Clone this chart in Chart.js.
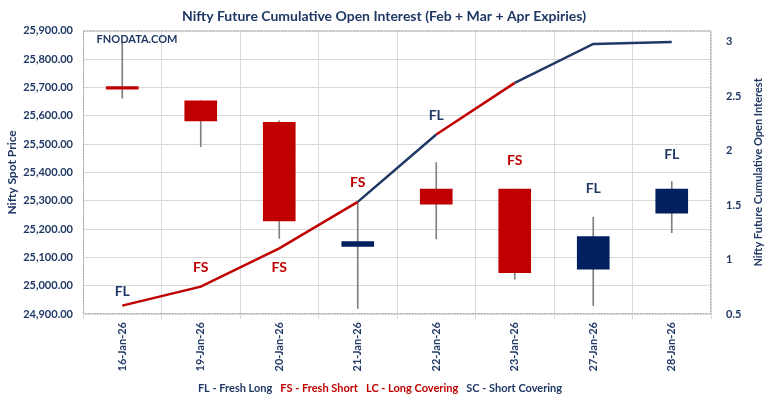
<!DOCTYPE html>
<html>
<head>
<meta charset="utf-8">
<script src="https://cdn.jsdelivr.net/npm/chart.js@4"></script>
<style>
  html, body { margin: 0; padding: 0; background: #fff; }
  #wrap { width: 768px; height: 401px; position: relative; }
</style>
</head>
<body>
<div id="wrap"><canvas id="chart"></canvas></div>
<script>
// Data
const categories = ['16-Jan-26', '19-Jan-26', '20-Jan-26', '21-Jan-26', '22-Jan-26', '23-Jan-26', '27-Jan-26', '28-Jan-26'];
const openPrices  = [25694, 25653, 25577, 25139, 25341, 25341, 25058, 25256];
const closePrices = [25694, 25582, 25229, 25156, 25288, 25046, 25173, 25341];
const highPrices  = [25859, 25653, 25582, 25291, 25435, 25341, 25242, 25368];
const lowPrices   = [25662, 25491, 25167, 24920, 25165, 25023, 24929, 25187];
const openInterest = [0.577, 0.751, 1.102, 1.529, 2.148, 2.622, 2.979, 2.997];
const positions   = ['FL', 'FS', 'FS', 'FS', 'FL', 'FS', 'FL', 'FL'];
const labelPrices = [24978, 25063, 25066, 25366, 25601, 25441, 25342, 25462];
const oiTicks     = [0.5, 1, 1.5, 2, 2.5, 3];
const legendItems = ['FL - Fresh Long', 'FS - Fresh Short', 'LC - Long Covering', 'SC - Short Covering'];
const legendKinds = ['FL', 'FS', 'LC', 'SC'];

const NAVY = '#1F3864';
const BLUE = '#002060';
const RED = '#C00000';
const FONT = 'Lato, "Open Sans", sans-serif';

const kindColor = (k) => (k === 'FL' || k === 'SC') ? NAVY : RED;

// Extra drawing: plot border, watermark, position labels, right title, bottom key
const decorations = {
  id: 'decorations',
  beforeDatasetsDraw(chart) {
    const { ctx, chartArea: a } = chart;
    ctx.save();
    ctx.strokeStyle = '#A6A6A6';
    ctx.lineWidth = 1;
    ctx.setLineDash([2, 1]);
    ctx.strokeRect(a.left + 0.5, a.top + 0.5, a.right - a.left - 1, a.bottom - a.top - 1);
    ctx.restore();
  },
  afterDatasetsDraw(chart) {
    const { ctx, chartArea: a, scales } = chart;
    ctx.save();
    ctx.textAlign = 'center';
    ctx.textBaseline = 'middle';

    ctx.font = `bold 11px ${FONT}`;
    ctx.fillStyle = NAVY;
    ctx.fillText('FNODATA.COM', a.left + 54, a.top + 9);

    ctx.font = `bold 14px ${FONT}`;
    positions.forEach((p, i) => {
      ctx.fillStyle = kindColor(p);
      ctx.fillText(p, scales.x.getPixelForValue(i), scales.y.getPixelForValue(labelPrices[i]));
    });

    // right axis title, reading bottom to top
    ctx.font = `bold 11px ${FONT}`;
    ctx.fillStyle = NAVY;
    ctx.translate(758, (a.top + a.bottom) / 2);
    ctx.rotate(-Math.PI / 2);
    ctx.fillText('Nifty Future Cumulative Open Interest', 0, 0);
    ctx.restore();

    // bottom key
    ctx.save();
    ctx.font = `bold 11px ${FONT}`;
    ctx.textBaseline = 'middle';
    ctx.textAlign = 'left';
    const gap = 8;
    const widths = legendItems.map(t => ctx.measureText(t).width);
    const total = widths.reduce((s, w) => s + w, 0) + gap * (legendItems.length - 1);
    let x = 380 - total / 2;
    legendItems.forEach((t, i) => {
      ctx.fillStyle = kindColor(legendKinds[i]);
      ctx.fillText(t, x, 388);
      x += widths[i] + gap;
    });
    ctx.restore();
  }
};

new Chart(document.getElementById('chart'), {
  type: 'bar',
  data: {
    labels: categories,
    datasets: [
      {
        type: 'line',
        label: 'Open Interest',
        data: openInterest,
        yAxisID: 'yOI',
        borderWidth: 2.5,
        borderColor: NAVY,
        pointRadius: 0,
        tension: 0,
        order: 0,
        segment: {
          borderColor: (c) => positions[c.p1DataIndex] === 'FL' ? '#203864' : RED,
        },
      },
      {
        label: 'Body',
        data: openPrices.map((o, i) => [o, closePrices[i]]),
        yAxisID: 'y',
        backgroundColor: openPrices.map((o, i) => closePrices[i] > o ? BLUE : RED),
        barThickness: 32,
        minBarLength: 2.5,
        grouped: false,
        order: 1,
      },
      {
        label: 'Wick',
        data: lowPrices.map((l, i) => [l, highPrices[i]]),
        yAxisID: 'y',
        backgroundColor: '#808080',
        barThickness: 1,
        grouped: false,
        order: 2,
      },
    ],
  },
  options: {
    responsive: true,
    maintainAspectRatio: false,
    animation: false,
    layout: { padding: 0 },
    plugins: {
      legend: { display: false },
      tooltip: { enabled: false },
      title: {
        display: true,
        text: 'Nifty Future Cumulative Open Interest (Feb + Mar + Apr Expiries)',
        color: NAVY,
        font: { family: FONT, size: 14, weight: 'bold' },
        padding: { top: 8, bottom: 6 },
      },
    },
    scales: {
      x: {
        offset: true,
        grid: { color: '#D9D9D9', offset: true, tickLength: 5 },
        border: { display: false },
        ticks: {
          color: NAVY,
          font: { family: FONT, size: 11, weight: 'bold' },
          minRotation: 90,
          maxRotation: 90,
          autoSkip: false,
          padding: 3,
        },
        afterFit(scale) { scale.height = 87; },
      },
      y: {
        position: 'left',
        min: 24900,
        max: 25900,
        grid: { color: '#D9D9D9', drawTicks: false },
        border: { display: false },
        ticks: {
          stepSize: 100,
          color: NAVY,
          padding: 10,
          font: { family: FONT, size: 11, weight: 'bold' },
          callback: (v) => v.toLocaleString('en-US', { minimumFractionDigits: 2, maximumFractionDigits: 2 }),
        },
        title: {
          display: true,
          text: 'Nifty Spot Price',
          color: NAVY,
          font: { family: FONT, size: 12, weight: 'bold' },
          padding: { top: 5, bottom: 0 },
        },
        afterFit(scale) { scale.width = 83; },
      },
      yOI: {
        position: 'right',
        min: 0.5,
        max: 3.1,
        grid: { drawOnChartArea: false, drawTicks: false },
        border: { display: false },
        ticks: {
          color: NAVY,
          padding: 15,
          font: { family: FONT, size: 11, weight: 'bold' },
          callback: (v) => String(v),
        },
        afterBuildTicks(scale) {
          scale.ticks = oiTicks.map(v => ({ value: v }));
        },
        afterFit(scale) { scale.width = 57; },
      },
    },
  },
  plugins: [decorations],
});
</script>
</body>
</html>
